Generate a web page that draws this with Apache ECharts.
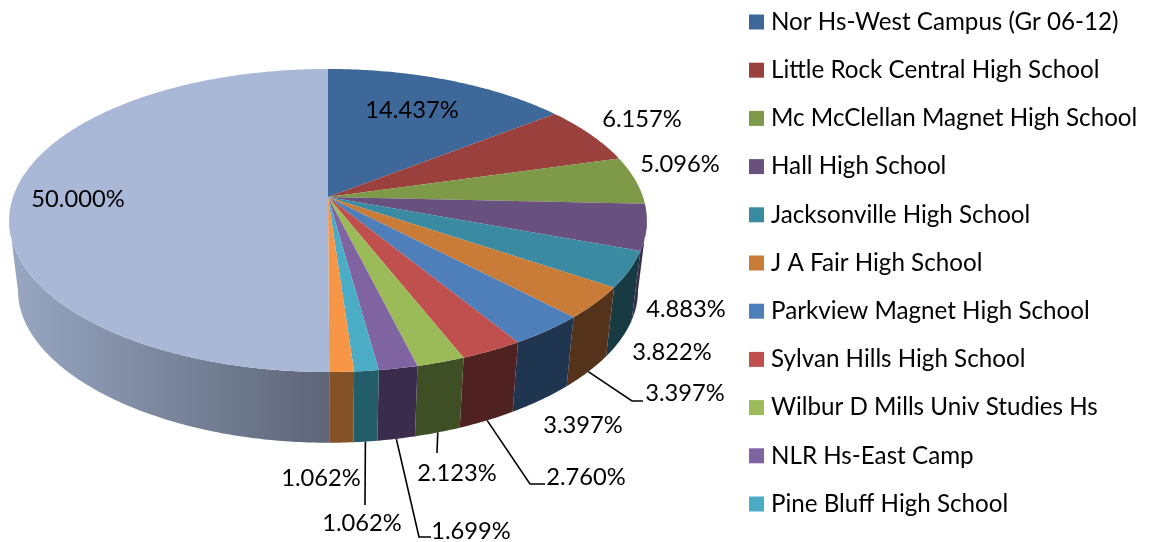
<!DOCTYPE html>
<html>
<head>
<meta charset="utf-8">
<style>
  html,body{margin:0;padding:0;background:#fff;}
  #main{width:1149px;height:542px;}
</style>
<script src="https://cdn.jsdelivr.net/npm/echarts@6/dist/echarts.min.js"></script>
</head>
<body>
<div id="main"></div>
<script>
// slices in drawing order, clockwise from 12 o'clock
const schools = ['Nor Hs-West Campus (Gr 06-12)','Little Rock Central High School','Mc McClellan Magnet High School','Hall High School','Jacksonville High School','J A Fair High School','Parkview Magnet High School','Sylvan Hills High School','Wilbur D Mills Univ Studies Hs','NLR Hs-East Camp','Pine Bluff High School','Other A','Other B'];
const shares = [14.437,6.157,5.096,4.883,3.822,3.397,3.397,2.760,2.123,1.699,1.062,1.062,50.000];
const shareLabels = ['14.437%','6.157%','5.096%','4.883%','3.822%','3.397%','3.397%','2.760%','2.123%','1.699%','1.062%','1.062%','50.000%'];
const topColors = ['#3f689a','#9a403d','#7e9a48','#68507f','#3a8aa1','#c87c38','#4e7fbb','#c0504d','#9bbb59','#8064a2','#4bacc6','#f79646','#a9b8d6'];
const wallColors = ['#20354f','#4f2120','#3f4f25','#3a2c4d','#183a42','#55331a','#20354f','#4f2120','#3f4f25','#3a2c4d','#235d6a','#855228',null];

// label centres, and the bend points of the leader line (if any)
const labelAt = [[412,110],[642,119],[680,164],[686,309],[672,352],[685,393],[583,425],[586,477],[457,473],[471,531],[362,523],[321,478],[78,199]];
const leaderBends = {5:[[632,401],[643,401]],7:[[530,484],[545,484]],8:[[437,453]],9:[[419,537],[431,537]],10:[[365,505]]};

// tilted disc: perspective projection of a unit circle
const cx = 328, cy = 197, A = 315, B = 147.9, k = 0.155;
// lower rim sits further from the camera, so it gets its own numbers
const botScaleX = 0.972, botY = 269, botB = 139, botK = 0.2;
const total = shares.reduce((a,b)=>a+b,0);

function project(t){
  const u = Math.sin(t), v = -Math.cos(t), d = 1-k*v;
  return [A*u/d, B*v/d];
}
function topPt(t){ const p=project(t); return [cx+p[0], cy+p[1]]; }
function botPt(t){
  const v = -Math.cos(t);
  return [cx+botScaleX*project(t)[0], botY+botB*v/(1-botK*v)];
}

function arc(fn,t0,t1){
  const pts=[], n=Math.max(2,Math.ceil(Math.abs(t1-t0)/0.01));
  for(let i=0;i<=n;i++) pts.push(fn(t0+(t1-t0)*i/n));
  return pts;
}

// only the part of the rim between the two silhouette angles faces the viewer
const rimFrom = Math.acos(-k), rimTo = 2*Math.PI-rimFrom;

function renderSlice(i){
  return function(params,api){
    const before = shares.slice(0,i).reduce((a,b)=>a+b,0);
    const t0 = before/total*2*Math.PI;
    const t1 = t0+api.value(0)/total*2*Math.PI;
    const kids = [];
    const w0 = Math.max(t0,rimFrom), w1 = Math.min(t1,rimTo);
    if(w1>w0){
      const fill = wallColors[i] || {type:'linear',x:0,y:0,x2:1,y2:0,colorStops:[{offset:0,color:'#98a7c2'},{offset:1,color:'#5d6577'}]};
      kids.push({type:'polygon',z2:1,shape:{points:arc(topPt,w0,w1).concat(arc(botPt,w1,w0))},style:{fill:fill}});
    }
    kids.push({type:'polygon',z2:2,shape:{points:[[cx,cy]].concat(arc(topPt,t0,t1))},style:{fill:topColors[i]}});
    if(leaderBends[i]){
      const mid=(t0+t1)/2;
      kids.push({type:'polyline',z2:3,shape:{points:[botPt(mid)].concat(leaderBends[i])},style:{fill:'none',stroke:'#000',lineWidth:1.6}});
    }
    kids.push({type:'text',z2:4,style:{text:shareLabels[i],x:labelAt[i][0],y:labelAt[i][1],align:'center',verticalAlign:'middle',fill:'#000',font:'23.7px Lato'}});
    return {type:'group',children:kids};
  };
}

const chart = echarts.init(document.getElementById('main'));
chart.setOption({
  animation:false,
  legend:{
    data:schools.slice(0,11),
    orient:'vertical',
    left:744,top:3,
    icon:'rect',
    itemWidth:15,itemHeight:15,itemGap:20.2,
    selectedMode:false,
    textStyle:{fontFamily:'Lato',fontSize:24.2,color:'#000',padding:[0,0,0,2],lineHeight:28}
  },
  series:schools.map((name,i)=>({
    type:'custom',
    name:name,
    coordinateSystem:'none',
    silent:true,
    itemStyle:{color:topColors[i]},
    data:[[shares[i]]],
    renderItem:renderSlice(i)
  }))
});
</script>
</body>
</html>
